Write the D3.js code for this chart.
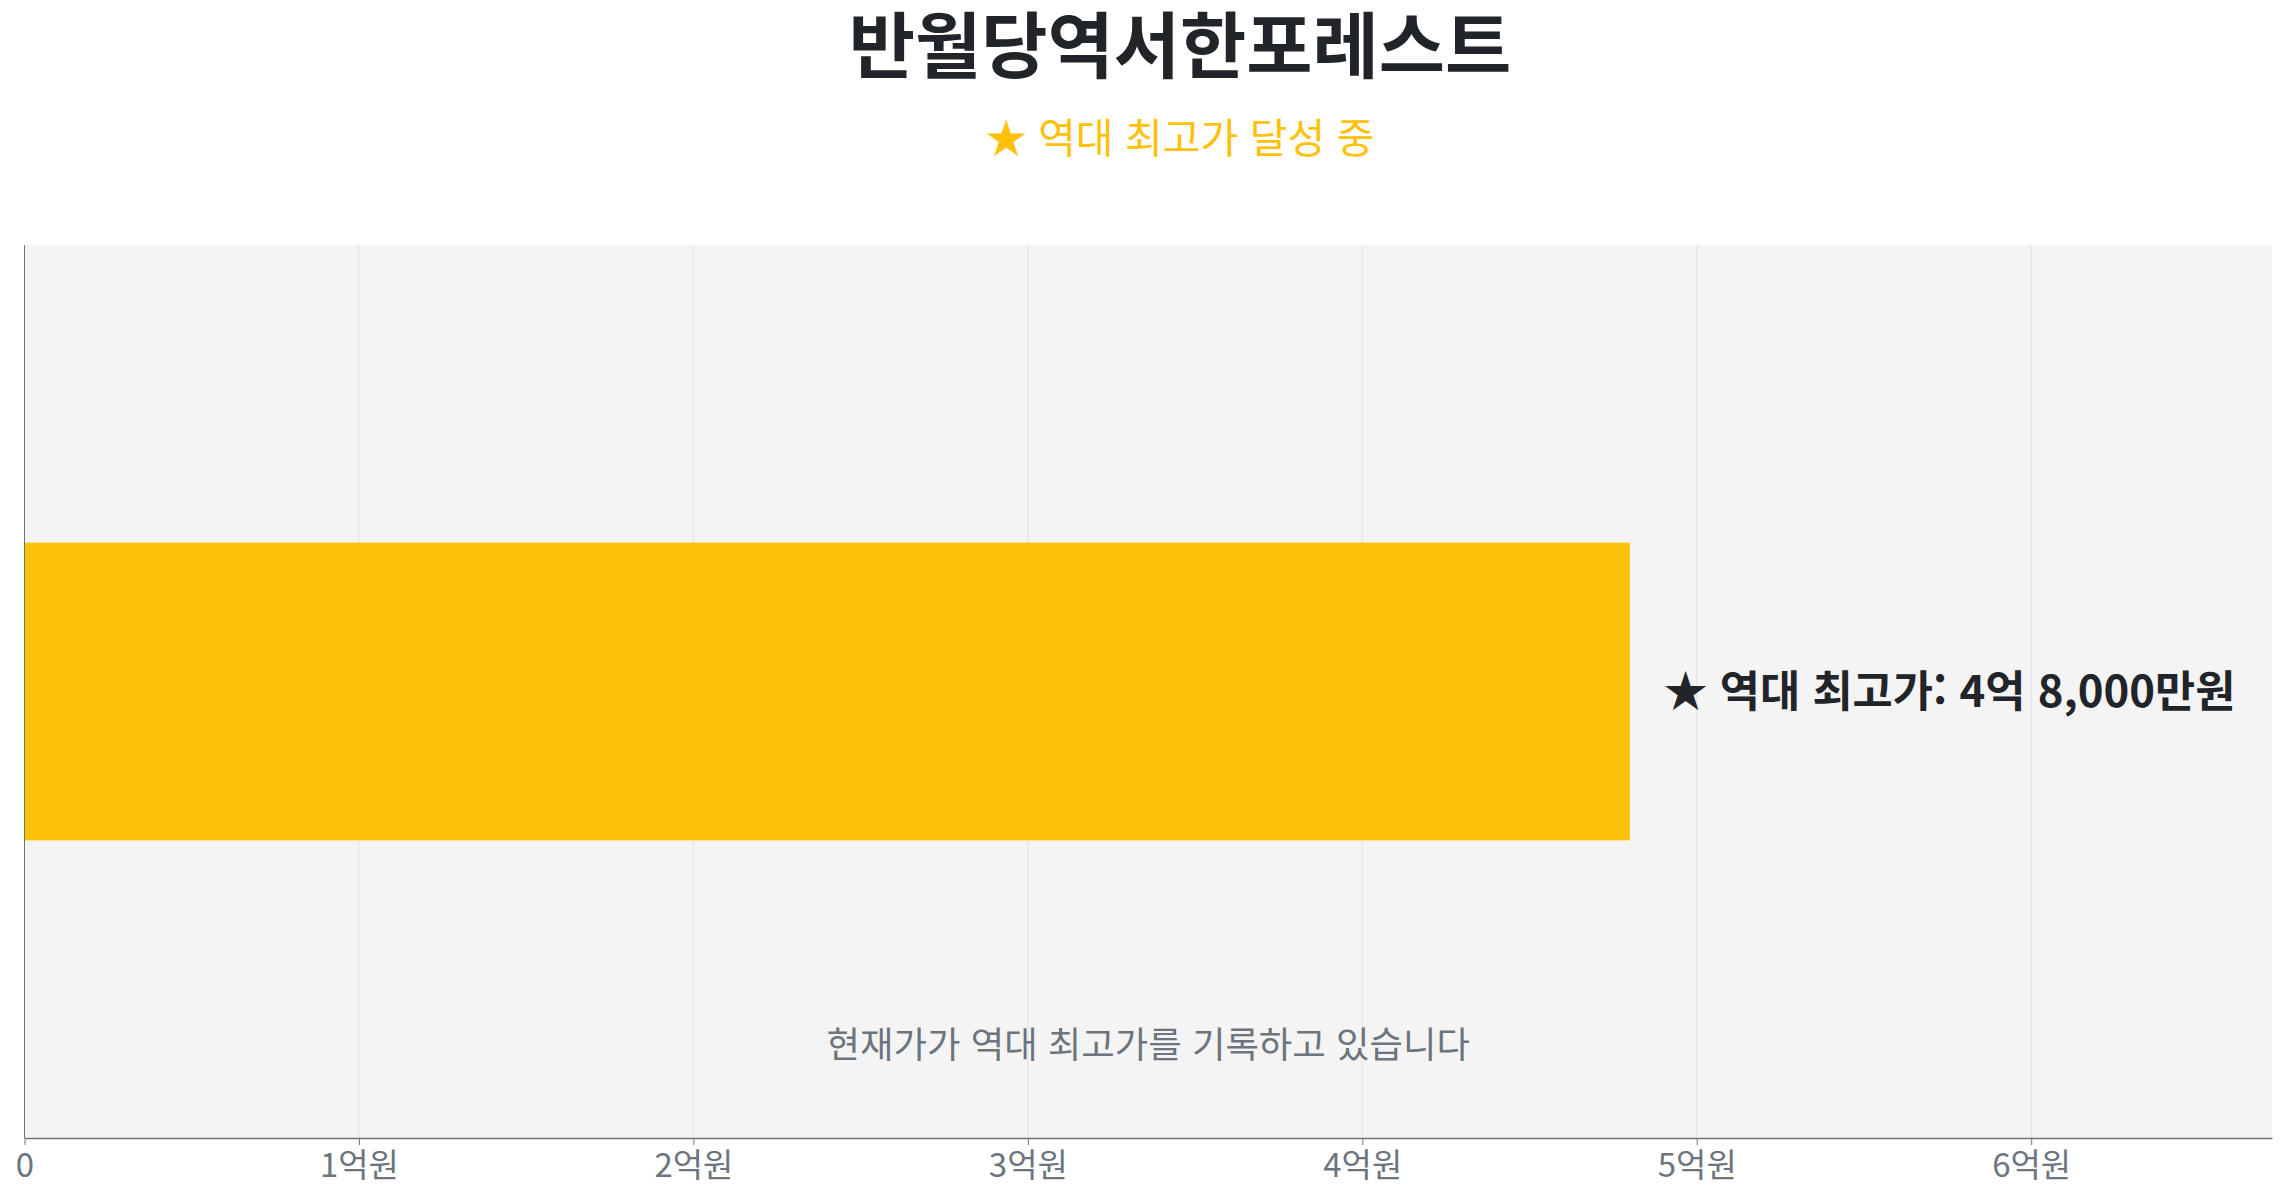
<!DOCTYPE html>
<html lang="ko">
<head>
    <meta charset="UTF-8">
    <title>반월당역서한포레스트</title>
    <script src="https://d3js.org/d3.v7.min.js"></script>
    <style>
        body {
            margin: 0;
            background: #fff;
            font-family: "Noto Sans CJK KR", "Noto Sans", sans-serif;
        }
    </style>
</head>
<body>
    <svg width="2287" height="1200"></svg>

    <script>
        // data (values in 만원)
        const apartments = ["반월당역서한포레스트"];
        const prices = [48000];
        const tickValues = [0, 10000, 20000, 30000, 40000, 50000, 60000];
        const tickLabels = ["0", "1억원", "2억원", "3억원", "4억원", "5억원", "6억원"];
        const titleText = "반월당역서한포레스트";
        const subtitleText = "★ 역대 최고가 달성 중";
        const valueLabel = "★ 역대 최고가: 4억 8,000만원";
        const noteText = "현재가가 역대 최고가를 기록하고 있습니다";

        const fontFamily = "'Noto Sans CJK KR', 'Noto Sans', sans-serif";

        const svg = d3.select("svg"),
              margin = {top: 245, right: 15, bottom: 62, left: 24.5},
              width = +svg.attr("width") - margin.left - margin.right,
              height = +svg.attr("height") - margin.top - margin.bottom,
              g = svg.append("g").attr("transform", `translate(${margin.left},${margin.top})`);

        svg.attr("font-family", fontFamily);

        const x = d3.scaleLinear().domain([0, d3.max(prices) * 1.4]).range([0, width]),
              y = d3.scaleBand().domain(apartments).range([0, height]).padding(0.5);

        // title
        svg.append("text")
            .attr("x", 1180)
            .attr("y", 72)
            .attr("text-anchor", "middle")
            .attr("font-size", 72)
            .attr("font-weight", 700)
            .attr("fill", "#212529")
            .text(titleText);

        svg.append("text")
            .attr("x", 1180)
            .attr("y", 153)
            .attr("text-anchor", "middle")
            .attr("font-size", 41)
            .attr("fill", "#ffc107")
            .text(subtitleText);

        // plot background
        g.append("rect")
            .attr("width", width)
            .attr("height", height)
            .attr("fill", "#f4f4f5");

        // grid
        g.append("g")
            .selectAll("line")
            .data(tickValues.slice(1))
            .join("line")
            .attr("x1", d => x(d))
            .attr("x2", d => x(d))
            .attr("y1", 0)
            .attr("y2", height)
            .attr("stroke", "#e3e3e5")
            .attr("stroke-width", 1);

        // bar
        g.selectAll(".bar")
            .data(apartments)
            .join("rect")
            .attr("class", "bar")
            .attr("x", x(0))
            .attr("y", d => y(d))
            .attr("width", (d, i) => x(prices[i]) - x(0))
            .attr("height", y.bandwidth())
            .attr("fill", "#fdc10a");

        g.selectAll(".value")
            .data(apartments)
            .join("text")
            .attr("class", "value")
            .attr("x", (d, i) => x(prices[i]) + 34)
            .attr("y", d => y(d) + y.bandwidth() / 2)
            .attr("dy", "0.35em")
            .attr("font-size", 43.7)
            .attr("font-weight", 700)
            .attr("fill", "#212529")
            .text(valueLabel);

        g.append("text")
            .attr("x", width / 2)
            .attr("y", 813)
            .attr("text-anchor", "middle")
            .attr("font-size", 36.4)
            .attr("fill", "#6c757d")
            .text(noteText);

        // axes
        const xAxis = g.append("g")
            .attr("transform", `translate(0,${height})`)
            .call(d3.axisBottom(x)
                .tickValues(tickValues)
                .tickFormat((d, i) => tickLabels[i])
                .tickSize(7)
                .tickPadding(9)
                .tickSizeOuter(0));
        xAxis.attr("font-family", fontFamily).attr("font-size", 33);
        xAxis.selectAll(".tick text").attr("fill", "#6c757d");
        xAxis.select(".domain").attr("stroke", "#6c757d").attr("stroke-width", 1.5);
        xAxis.selectAll(".tick line").attr("stroke", "#6c757d");

        g.append("line")
            .attr("x1", 0).attr("x2", 0)
            .attr("y1", 0).attr("y2", height)
            .attr("stroke", "#6c757d")
            .attr("stroke-width", 1);
    </script>
</body>
</html>
